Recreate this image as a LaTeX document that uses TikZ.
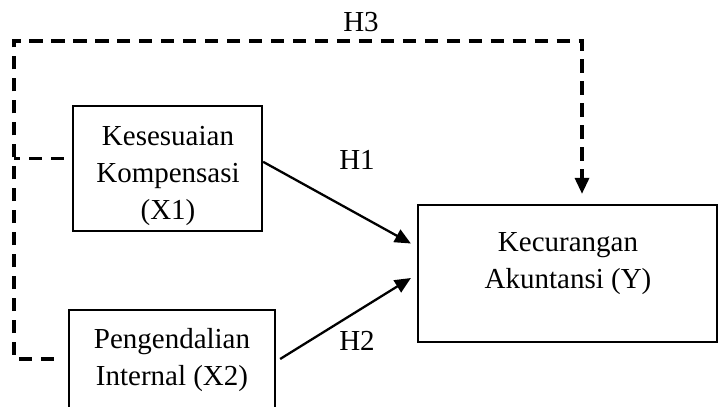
\documentclass[tikz,border=0pt]{standalone}
\usepackage{fontspec}
\setmainfont{Liberation Serif}
\usetikzlibrary{arrows.meta}

\begin{document}
\begin{tikzpicture}[x=0.02cm, y=-0.02cm, >={Triangle[length=0.32cm, width=0.28cm]}, font=\fontsize{16.5}{21}\selectfont,
    box/.style={rectangle, draw=black, line width=1.3pt, inner sep=0pt},
    hyp/.style={dash pattern=on 7.5pt off 5pt, line width=1.9pt},
    txt/.style={align=center, inner sep=0pt}]
    \clip (0,0) rectangle (719,406);

    % variables
    \node[box, minimum width=3.78cm, minimum height=2.5cm] (x1) at (167.5,168.5) {};
    \node[box, minimum width=4.12cm, minimum height=1.96cm] (x2) at (172,359) {};
    \node[box, minimum width=5.98cm, minimum height=2.74cm] (y) at (567.5,273.5) {};
    \node[txt] (x1txt) at (168,176) {Kesesuaian\\Kompensasi\\(X1)};
    \node[txt] (x2txt) at (172,360) {Pengendalian\\Internal (X2)};
    \node[txt] (ytxt) at (568,264) {Kecurangan\\Akuntansi (Y)};

    % hypotheses
    \node[txt] (h1) at (357,160) {H1};
    \node[txt] (h2) at (357,341) {H2};
    \node[txt] (h3) at (361,22) {H3};

    \coordinate (tl) at (14,41);
    \coordinate (tr) at (582,41);

    \draw[->, line width=1.3pt] (x1.4) -- ([xshift=-0.12cm, yshift=0.6cm]y.west);
    \draw[->, line width=1.3pt] ([xshift=0.08cm]x2.east) -- ([xshift=-0.12cm, yshift=-0.09cm]y.west);
    \draw[hyp, shorten <=0.16cm] (x1.174) -- (x1.174 -| tl);
    \draw[hyp, ->, shorten <=0.28cm, shorten >=0.2cm] (x2.west) -| (tl) -- (tr) -- (tr |- y.north);
\end{tikzpicture}
\end{document}
